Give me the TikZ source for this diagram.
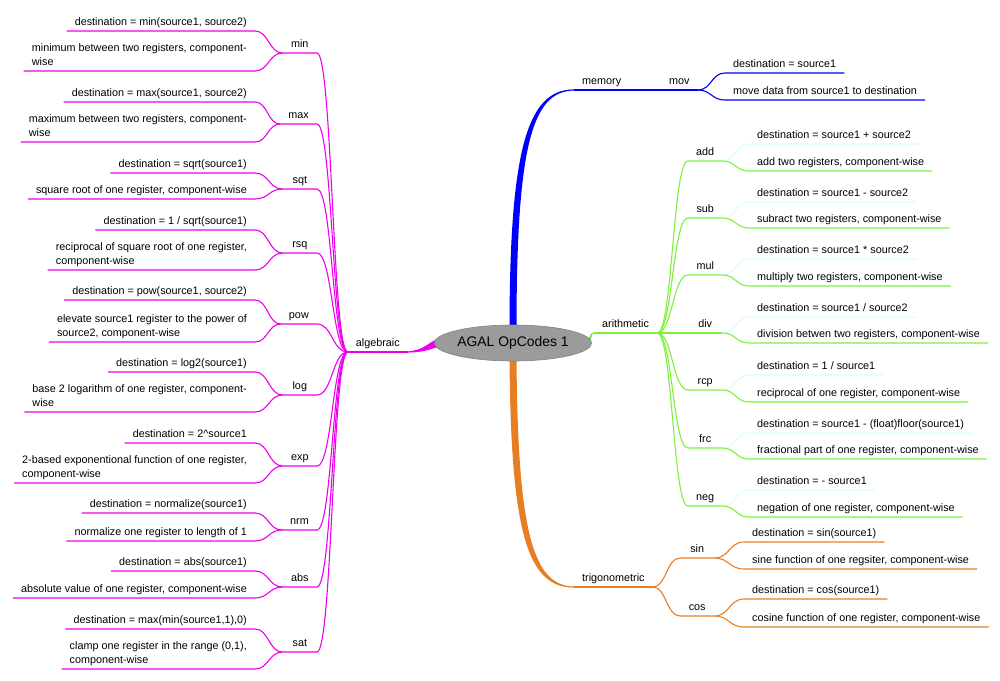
\documentclass[tikz,border=0pt]{standalone}
\usepackage{fontspec}
\setmainfont{Liberation Sans}
\usetikzlibrary{calc,shapes.geometric}
\pgfdeclarelayer{bg}
\pgfsetlayers{bg,main}
\definecolor{cBlue}{RGB}{0,0,255}
\definecolor{cGreen}{RGB}{125,242,60}
\definecolor{cPale}{RGB}{212,255,255}
\definecolor{cMag}{RGB}{238,0,238}
\definecolor{cOrange}{RGB}{232,126,36}
\definecolor{cRoot}{RGB}{155,155,155}
\definecolor{cRootLine}{RGB}{130,130,130}

\newcommand\AlgItem[6]{%
  \node[kid,anchor=south east] (#1) at (317,#2) {#1};
  \node[txt,anchor=south east] (#1-u) at (255,#3) {#4};
  \node[txt,anchor=south east] (#1-l) at (255,#5) {#6};
  \begin{pgfonlayer}{bg}
    \draw[cMag,ln] (alg.south west) to[hs] (#1.south east) -- (#1.south west);
    \draw[cMag,ln] (#1.south west) to[hs] (#1-u.south east) -- (#1-u.south west);
    \draw[cMag,ln] (#1.south west) to[hs] (#1-l.south east) -- (#1-l.south west);
  \end{pgfonlayer}}

\newcommand\AriItem[6]{%
  \node[kid,anchor=south west] (#1) at (688,#2) {#1};
  \node[txt,anchor=south west] (#1-u) at (749,#3) {#4};
  \node[txt,anchor=south west] (#1-l) at (749,#5) {#6};
  \begin{pgfonlayer}{bg}
    \draw[cGreen,ln] (ari.south east) to[hs] (#1.south west) -- (#1.south east);
    \draw[cPale,ln] (#1.south east) to[hs] (#1-u.south west) -- (#1-u.south east);
    \draw[cGreen,ln] (#1.south east) to[hs] (#1-l.south west) -- (#1-l.south east);
  \end{pgfonlayer}}

\newcommand\TriItem[6]{%
  \node[kid,anchor=south west] (#1) at (680,#2) {#1};
  \node[txt,anchor=south west] (#1-u) at (744,#3) {#4};
  \node[txt,anchor=south west] (#1-l) at (744,#5) {#6};
  \begin{pgfonlayer}{bg}
    \draw[cOrange,ln] (tri.south east) to[hs] (#1.south west) -- (#1.south east);
    \draw[cOrange,ln] (#1.south east) to[hs] (#1-u.south west) -- (#1-u.south east);
    \draw[cOrange,ln] (#1.south east) to[hs] (#1-l.south west) -- (#1-l.south east);
  \end{pgfonlayer}}

\begin{document}
\begin{tikzpicture}[x=1pt,y=-1pt,
  txt/.style={font=\fontsize{10.8}{14}\selectfont, inner xsep=8pt, inner ysep=3pt, text depth=2.5pt, align=left},
  kid/.style={txt, minimum width=34pt, align=center},
  ln/.style={line width=1.1pt},
  hs/.style={to path={.. controls ($(\tikztostart)!0.5!(\tikztostart -| \tikztotarget)$) and ($(\tikztotarget)!0.5!(\tikztotarget -| \tikztostart)$) .. (\tikztotarget)}},
  rootnode/.style={ellipse, fill=cRoot, draw=cRootLine, line width=0.6pt, minimum width=144pt, minimum height=36pt, inner sep=0pt, font=\fontsize{13.9}{16}\selectfont}
]
\useasboundingbox (0,0) rectangle (1000,680);

\node[rootnode] (root) at (513,343) {AGAL OpCodes 1};

% first-level nodes
\node[txt,anchor=south west] (mem) at (574,90) {memory};
\node[txt,anchor=south west] (ari) at (594,333) {arithmetic};
\node[txt,anchor=south east] (alg) at (408,352) {algebraic};
\node[txt,anchor=south west] (tri) at (574,587) {trigonometric};

% memory subtree
\node[kid,anchor=south west] (mov) at (661,90) {mov};
\node[txt,anchor=south west] (mov-u) at (725,73) {destination = source1};
\node[txt,anchor=south west] (mov-l) at (725,100) {move data from source1 to destination};

\begin{pgfonlayer}{bg}
  % tapered main branches
  \fill[cBlue] ([xshift=-3.5pt,yshift=-6pt]root.north) .. controls (509.5,150) and (527,89.4) .. ([yshift=0.6pt]mem.south west)
     -- ([yshift=-0.6pt]mem.south west) .. controls (531,90.6) and (516.5,150) .. ([xshift=3.5pt,yshift=-6pt]root.north) -- cycle;
  \fill[cOrange] ([xshift=-3.5pt,yshift=6pt]root.south) .. controls (510.5,535) and (528,587.6) .. ([yshift=-0.6pt]tri.south west)
     -- ([yshift=0.6pt]tri.south west) .. controls (532,586.4) and (517.5,528) .. ([xshift=3.5pt,yshift=6pt]root.south) -- cycle;
  \fill[cMag] ([xshift=6pt,yshift=4pt]root.west) .. controls (430,339) and (426,351.4) .. ([xshift=-3pt,yshift=0.6pt]alg.south east)
     -- ([xshift=-3pt,yshift=-0.6pt]alg.south east) .. controls (428,352.6) and (432,347.5) .. ([xshift=6pt,yshift=-4pt]root.west) -- cycle;
  \fill[cGreen] ([xshift=-5pt,yshift=2pt]root.east) .. controls (590,341) and (588,332.4) .. ([yshift=0.6pt]ari.south west)
     -- ([yshift=-0.6pt]ari.south west) .. controls (590,333.6) and (592,348) .. ([xshift=-5pt,yshift=-4pt]root.east) -- cycle;
  % underlines of first-level nodes
  \draw[cBlue,ln] (mem.south west) -- (mem.south east) -- (mov.south west) -- (mov.south east);
  \draw[cBlue,ln] (mov.south east) to[hs] (mov-u.south west) -- (mov-u.south east);
  \draw[cBlue,ln] (mov.south east) to[hs] (mov-l.south west) -- (mov-l.south east);
  \draw[cGreen,ln] (ari.south west) -- (ari.south east);
  \draw[cMag,ln] (alg.south west) -- (alg.south east);
  \draw[cOrange,ln] (tri.south west) -- (tri.south east);
\end{pgfonlayer}

% arithmetic subtree
\AriItem{add}{161}{144}{destination = source1 + source2}{171}{add two registers, component-wise}
\AriItem{sub}{218}{202}{destination = source1 - source2}{228}{subract two registers, component-wise}
\AriItem{mul}{275}{259}{destination = source1 * source2}{286}{multiply two registers, component-wise}
\AriItem{div}{333}{317}{destination = source1 / source2}{343}{division betwen two registers, component-wise}
\AriItem{rcp}{390}{375}{destination = 1 / source1}{402}{reciprocal of one register, component-wise}
\AriItem{frc}{448}{433}{destination = source1 - (float)floor(source1)}{459}{fractional part of one register, component-wise}
\AriItem{neg}{506}{490}{destination = - source1}{517}{negation of one register, component-wise}

% trigonometric subtree
\TriItem{sin}{558}{542}{destination = sin(source1)}{569}{sine function of one regsiter, component-wise}
\TriItem{cos}{616}{599}{destination = cos(source1)}{627}{cosine function of one register, component-wise}

% algebraic subtree
\AlgItem{min}{53}{31}{destination = min(source1, source2)}{71}{minimum between two registers, component-\\wise}
\AlgItem{max}{124}{102}{destination = max(source1, source2)}{142}{maximum between two registers, component-\\wise}
\AlgItem{sqt}{189}{173}{destination = sqrt(source1)}{199}{square root of one register, component-wise}
\AlgItem{rsq}{253}{230}{destination = 1 / sqrt(source1)}{270}{reciprocal of square root of one register,\\component-wise}
\AlgItem{pow}{324}{300}{destination = pow(source1, source2)}{342}{elevate source1 register to the power of\\source2, component-wise}
\AlgItem{log}{395}{372}{destination = log2(source1)}{412}{base 2 logarithm of one register, component-\\wise}
\AlgItem{exp}{466}{443}{destination = 2\textasciicircum source1}{483}{2-based exponentional function of one register,\\component-wise}
\AlgItem{nrm}{530}{513}{destination = normalize(source1)}{541}{normalize one register to length of 1}
\AlgItem{abs}{587}{571}{destination = abs(source1)}{598}{absolute value of one register, component-wise}
\AlgItem{sat}{652}{629}{destination = max(min(source1,1),0)}{669}{clamp one register in the range (0,1),\\component-wise}

\end{tikzpicture}
\end{document}
